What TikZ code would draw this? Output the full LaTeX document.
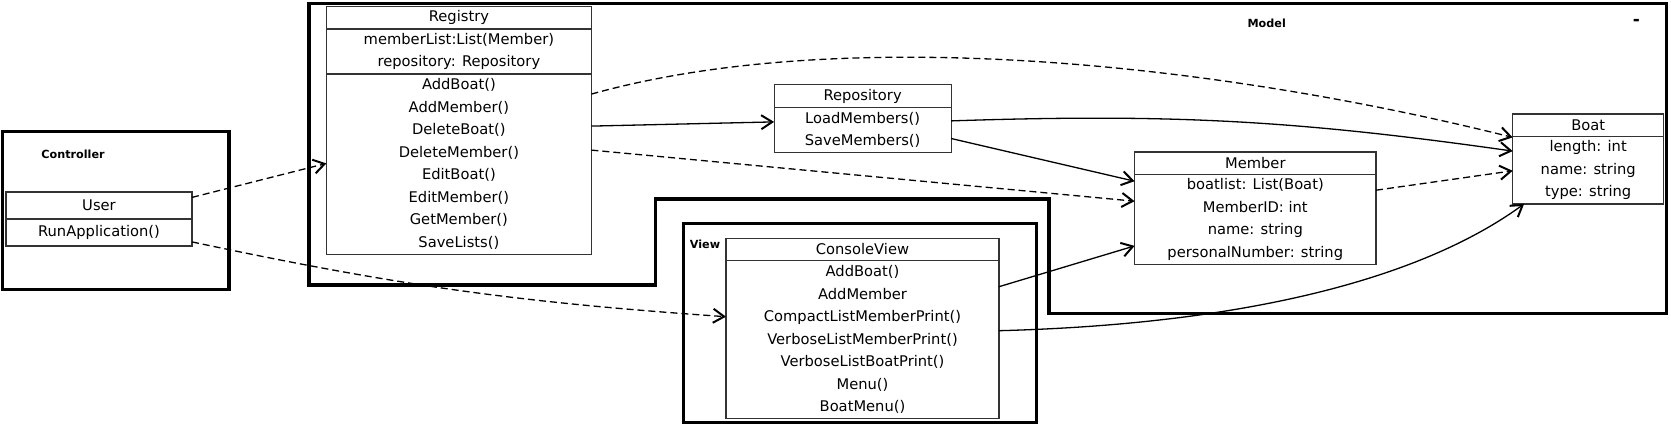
\documentclass[tikz,border=0pt]{standalone}
\usepackage{fontspec}
\setmainfont{DejaVu Sans}
\usetikzlibrary{arrows.meta, positioning}

\begin{document}
\begin{tikzpicture}[x=1pt, y=-1pt, font=\fontsize{14.7}{22.5}\selectfont]

        % Setup the styles for the packages and the classes
        \tikzset{frame style/.style={line width=3.2pt, draw=black},
                 package label/.style={font=\bfseries\fontsize{11.2}{13}\selectfont},
                 class style/.style={draw=black!80,
                                     line width=1.2pt,
                                     inner sep=0pt,
                                     outer sep=0pt,
                                     align=center,
                                     minimum width=#1,
                                     minimum height=22.4pt},
                 dep/.style={dash pattern=on 7pt off 4pt},
                 conn/.style={-{Straight Barb[length=11pt, width=14pt, line width=2pt]},
                              line width=1.3pt}}

        \useasboundingbox (0,0) rectangle (1671,425);

        % Draw the packages
        \draw[frame style] (2.7,131.7) rectangle (229,289.5);
        \draw[frame style] (309,3.5) -- (1666.3,3.5) -- (1666.3,313.3)
            -- (1049,313.3) -- (1049,199) -- (655.5,199) -- (655.5,285)
            -- (309,285) -- cycle;
        \draw[frame style] (683.4,223.5) rectangle (1036.7,422.3);

        \node[package label] at (73,154)      (controller) {Controller};
        \node[package label] at (1266.7,23.3) (model)      {Model};
        \node[package label] at (705,244.5)   (view)       {View};
        \node[font=\bfseries\fontsize{17}{17}\selectfont] at (1636.4,22) (minus) {-};

        % Draw the classes
        \node[class style=186pt, minimum height=27pt] at (99,232.4) (userops) {RunApplication()};
        \node[class style=186pt, minimum height=27pt, above=0pt of userops] (user) {User};

        \node[class style=265pt] at (458.9,17.9) (reg) {Registry};
        \node[class style=265pt, minimum height=45pt, below=0pt of reg] (regattr)
            {memberList:List(Member)\\repository: Repository};
        \node[class style=265pt, minimum height=180pt, below=0pt of regattr] (regops)
            {AddBoat()\\AddMember()\\DeleteBoat()\\DeleteMember()\\EditBoat()\\EditMember()\\GetMember()\\SaveLists()};

        \node[class style=177pt] at (862.6,96) (repo) {Repository};
        \node[class style=177pt, minimum height=45pt, below=0pt of repo] (repoops)
            {LoadMembers()\\SaveMembers()};

        \node[class style=241.4pt] at (1255.3,163.3) (member) {Member};
        \node[class style=241.4pt, minimum height=90pt, below=0pt of member] (memattr)
            {boatlist: List(Boat)\\MemberID: int\\name: string\\personalNumber: string};

        \node[class style=151pt] at (1588.2,125.2) (boat) {Boat};
        \node[class style=151pt, minimum height=67.5pt, below=0pt of boat] (boatattr)
            {length: int\\name: string\\type: string};

        \node[class style=273pt] at (862.5,249.5) (cview) {ConsoleView};
        \node[class style=273pt, minimum height=157.6pt, below=0pt of cview] (cvops)
            {AddBoat()\\AddMember\\CompactListMemberPrint()\\VerboseListMemberPrint()\\VerboseListBoatPrint()\\Menu()\\BoatMenu()};

        % Connect the classes with arrows
        \path[conn]
            ([yshift=8pt]user.east)              edge[dep]               ([yshift=0.7pt]regops.west)
            ([yshift=-9.5pt]userops.east)        edge[dep, bend right=4] ([yshift=22.8pt]cvops.west)
            ([yshift=-52pt]regops.north east)    edge                    ([yshift=-14.7pt]repoops.north west)
            ([yshift=-76pt]regops.north east)    edge[dep]               ([yshift=-26.7pt]memattr.north west)
            ([yshift=-13.7pt]repoops.north east) edge[bend left=5]       ([yshift=-14.7pt]boatattr.north west)
            ([yshift=-31.3pt]repoops.north east) edge                    ([yshift=-6.7pt]memattr.north west)
            ([yshift=-15.7pt]memattr.north east) edge[dep]               ([yshift=-34.4pt]boatattr.north west)
            ([yshift=-26pt]cvops.north east)     edge                    ([yshift=-71.4pt]memattr.north west);

        % The two long curves
        \draw[conn, dep]
            ([yshift=-20pt]regops.north east) .. controls +(250,-70) and +(-300,-75) .. ([yshift=-1pt]boatattr.north west);
        \draw[conn]
            ([yshift=-70pt]cvops.north east) .. controls +(230,-6) and +(-110,80) .. ([xshift=11.4pt]boatattr.south west);
    \end{tikzpicture}
\end{document}
